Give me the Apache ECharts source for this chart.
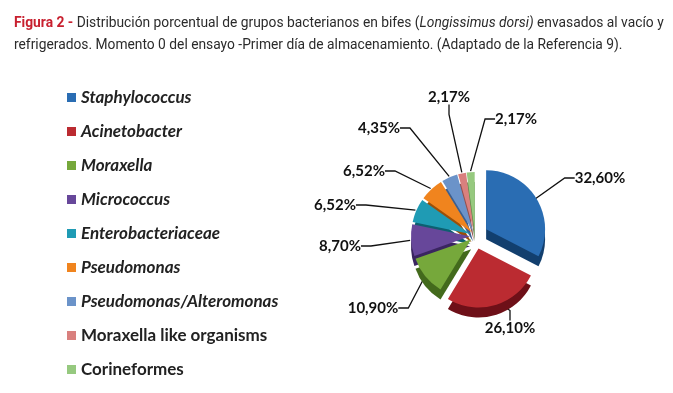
<!DOCTYPE html>
<html><head><meta charset="utf-8">
<script src="https://cdn.jsdelivr.net/npm/echarts@6/dist/echarts.min.js"></script>
<style>html,body{margin:0;padding:0;background:#fff}#c{width:673px;height:393px}</style>
</head><body><div id="c"></div>
<script>
var categories = ['Staphylococcus','Acinetobacter','Moraxella','Micrococcus','Enterobacteriaceae','Pseudomonas','Pseudomonas/Alteromonas','Moraxella like organisms','Corineformes'];
var values = [32.60, 26.10, 10.90, 8.70, 6.52, 6.52, 4.35, 2.17, 2.17];
var italicNames = [true, true, true, true, true, true, true, false, false];
var colors = ['#2a6db3','#bb2b31','#76a83b','#67479a','#1f9bb4','#f0841e','#6b93c9','#d9807e','#96c97f'];
var darkColors = ['#123f6e','#6e1018','#436a1c','#3a2560','#0d5f70','#9a4f08','#3c5f8f','#94504e','#5c8a4b'];
var bigGroup = [0, 1];
// label anchor positions (centre of each label text, in pixels)
var labelAnchor = [[600,178],[510,328],[373,308],[340,246],[335,205],[364,171],[379,128],[449,97],[516,119]];

var chart = echarts.init(document.getElementById('c'));
var R = 59, cx = 475, cy = 236, depth = 10;

function pie(offset, inGroup, dark, dy) {
  return {
    type: 'pie',
    radius: R,
    center: [cx, cy + dy],
    startAngle: 90,
    clockwise: true,
    selectedMode: 'multiple',
    selectedOffset: offset,
    silent: true,
    animation: false,
    label: { show: false },
    labelLine: { show: false },
    data: categories.map(function (n, i) {
      var inG = inGroup(i);
      return {
        name: n, value: values[i], selected: true,
        itemStyle: { color: inG ? (dark ? darkColors[i] : colors[i]) : 'rgba(0,0,0,0)' }
      };
    })
  };
}
var isBig = function (i) { return bigGroup.indexOf(i) >= 0; };
var isSmall = function (i) { return bigGroup.indexOf(i) < 0; };

var labelSeries = {
  type: 'pie',
  radius: R + 6,
  center: [cx, cy],
  startAngle: 90,
  clockwise: true,
  silent: true,
  animation: false,
  avoidLabelOverlap: false,
  itemStyle: { color: 'rgba(0,0,0,0)' },
  label: { show: true, formatter: function (p) { return p.value.toFixed(2).replace('.', ',') + '%'; },
    color: '#111', fontFamily: 'Lato', fontWeight: 'bold', fontSize: 15 },
  labelLine: { show: true, length: 10, length2: 10, lineStyle: { color: '#111', width: 1.3 } },
  labelLayout: function (p) {
    var a = labelAnchor[p.dataIndex];
    return { x: a[0], y: a[1], align: 'center', verticalAlign: 'middle' };
  },
  data: categories.map(function (n, i) { return { name: n, value: values[i] }; })
};

chart.setOption({
  backgroundColor: '#fff',
  title: {
    left: 9, top: 8,
    text: '{r|Figura 2 - }{n|Distribución porcentual de grupos bacterianos en bifes (}{i|Longissimus dorsi)}{n| envasados al vacío y}\n{n|refrigerados. Momento 0 del ensayo -Primer día de almacenamiento. (Adaptado de la Referencia 9).}',
    textStyle: {
      fontWeight: 'normal',
      rich: {
        r: { color: '#c8202f', fontWeight: 'bold', fontSize: 13.8, fontFamily: 'Roboto', lineHeight: 22 },
        n: { color: '#2b2b2b', fontWeight: 'normal', fontSize: 13.8, fontFamily: 'Roboto', lineHeight: 22 },
        i: { color: '#2b2b2b', fontWeight: 'normal', fontSize: 13.8, fontStyle: 'italic', fontFamily: 'Roboto', lineHeight: 22 }
      }
    }
  },
  legend: {
    orient: 'vertical', left: 62, top: 84,
    itemWidth: 9, itemHeight: 9, itemGap: 17, icon: 'rect',
    selectedMode: false,
    textStyle: { fontFamily: 'Lato', fontSize: 17, fontWeight: 'bold', color: '#222' },
    data: categories.map(function (n, i) {
      return { name: n, itemStyle: { color: colors[i], opacity: 1 }, textStyle: { fontStyle: italicNames[i] ? 'italic' : 'normal' } };
    })
  },
  series: [
    pie(13, isBig, true, depth),
    pie(5, isSmall, true, depth),
    pie(13, isBig, false, 0),
    pie(5, isSmall, false, 0),
    labelSeries
  ]
});
</script></body></html>
